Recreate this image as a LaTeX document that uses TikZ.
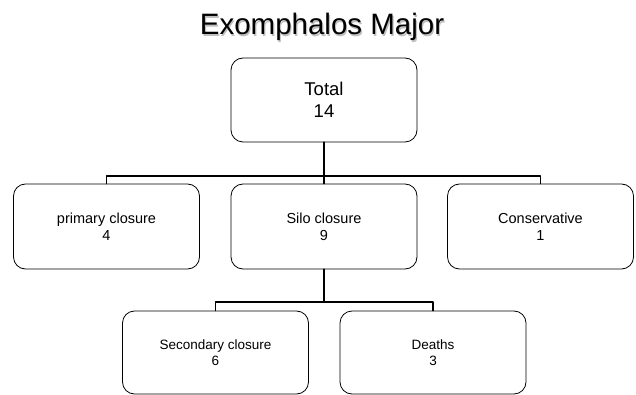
\documentclass[tikz,border=0pt]{standalone}
\usepackage{fontspec}
\setmainfont{Liberation Sans}
\usetikzlibrary{calc}

\begin{document}
\begin{tikzpicture}[x=1pt, y=1pt, line cap=round, line join=round,
	box/.style={draw, line width=0.8pt, rounded corners=12pt, inner sep=0pt,
		minimum width=186pt, minimum height=84pt, align=center},
	trunk/.style={line width=2.2pt},
	bus/.style={line width=1.4pt}]

\useasboundingbox (0,0) rectangle (636,-395);

% ==== Title ====
\node[gray!50, anchor=base, font=\fontsize{29.5}{31}\selectfont] (shadow) at (323.2,-36.4) {Exomphalos Major};
\node[anchor=base, font=\fontsize{29.5}{31}\selectfont] (title) at (322,-35) {Exomphalos Major};

% ==== Level 1 ====
\node[box, font=\fontsize{18.5}{22.5}\selectfont] (total) at (324,-100) {Total\\14};

% ==== Level 2 ====
\begin{scope}[font=\fontsize{14.5}{16.7}\selectfont]
	\node[box, minimum height=85pt] (primary) at (106.5,-226.5) {primary closure\\4};
	\node[box, minimum height=85pt] (silo) at (324,-226.5) {Silo closure\\9};
	\node[box, minimum height=85pt] (cons) at (540.5,-226.5) {Conservative\\1};
\end{scope}

% ==== Level 3 ====
\begin{scope}[font=\fontsize{13.5}{16}\selectfont]
	\node[box, minimum height=83pt] (second) at (215.5,-352.5) {Secondary closure\\6};
	\node[box, minimum height=83pt] (deaths) at (433,-352.5) {Deaths\\3};
\end{scope}

% ==== Connectors ====
\coordinate (bus1) at (total.south |- 0,-176);
\draw[trunk] (total.south) -- (bus1);
\draw[bus] (primary.north) |- (bus1) -| (cons.north);
\draw[bus] (bus1) -- (silo.north);

\coordinate (bus2) at (silo.south |- 0,-302);
\draw[trunk] (silo.south) -- (bus2);
\draw[bus] (second.north) |- (bus2) -| (deaths.north);

\end{tikzpicture}
\end{document}
